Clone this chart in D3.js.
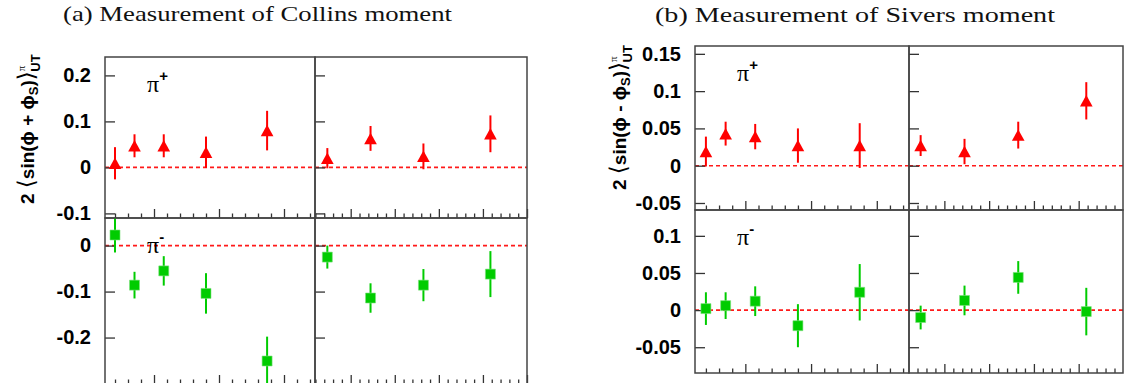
<!DOCTYPE html>
<html>
<head>
<meta charset="utf-8">
<script src="https://cdn.jsdelivr.net/npm/d3@7"></script>
<style>
body { margin: 0; background: #fff; }
</style>
</head>
<body>
<svg id="chart" width="1129" height="383"></svg>
<script>
// bin centres (left pads vs x, right pads vs z)
var xBins = [0.040, 0.070, 0.115, 0.180, 0.274];
var zBins = [0.247, 0.345, 0.465, 0.617];

// Collins moments
var collinsPipX    = [0.009, 0.047, 0.047, 0.033, 0.080];
var collinsPipXErr = [0.035, 0.025, 0.025, 0.034, 0.043];
var collinsPipZ    = [0.020, 0.063, 0.024, 0.073];
var collinsPipZErr = [0.022, 0.027, 0.028, 0.040];
var collinsPimX    = [0.023, -0.086, -0.055, -0.104, -0.251];
var collinsPimXErr = [0.038, 0.029, 0.032, 0.044, 0.053];
var collinsPimZ    = [-0.025, -0.114, -0.086, -0.062];
var collinsPimZErr = [0.025, 0.032, 0.035, 0.050];

// Sivers moments
var siversPipX    = [0.019, 0.043, 0.039, 0.027, 0.027];
var siversPipXErr = [0.020, 0.016, 0.017, 0.023, 0.030];
var siversPipZ    = [0.027, 0.019, 0.041, 0.087];
var siversPipZErr = [0.014, 0.017, 0.018, 0.025];
var siversPimX    = [0.002, 0.006, 0.012, -0.021, 0.024];
var siversPimXErr = [0.022, 0.018, 0.020, 0.029, 0.038];
var siversPimZ    = [-0.010, 0.013, 0.044, -0.002];
var siversPimZErr = [0.016, 0.020, 0.022, 0.032];

// y tick labels
var collinsTopTicks = [-0.1, 0, 0.1, 0.2];
var collinsBotTicks = [-0.2, -0.1, 0];
var siversTopTicks  = [-0.05, 0, 0.05, 0.1, 0.15];
var siversBotTicks  = [-0.05, 0, 0.05, 0.1];

var titles = ["(a) Measurement of Collins moment", "(b) Measurement of Sivers moment"];

var RED = "#ff0000", GREEN = "#00cc00";
var SANS = "'Liberation Sans', Arial, Helvetica, 'DejaVu Sans', sans-serif";

var svg = d3.select("#chart");
var defs = svg.append("defs");
var padId = 0;

// ROOT-like triangle marker, centred on its bounding box
var triShape = {
	draw: function(ctx, size) {
		var w = Math.sqrt(size);
		ctx.moveTo(0, -w * 0.5);
		ctx.lineTo(w * 0.55, w * 0.5);
		ctx.lineTo(-w * 0.55, w * 0.5);
		ctx.closePath();
	}
};

function drawPad(p) {
	"use strict"
	var g = svg.append("g");
	var x = d3.scaleLinear().domain(p.xDom).range([p.x0, p.x1]);
	var y = d3.scaleLinear().domain(p.yDom).range([p.y1, p.y0]);

	var cid = "clip" + (padId++);
	defs.append("clipPath").attr("id", cid)
		.append("rect")
			.attr("x", p.x0).attr("y", p.y0)
			.attr("width", p.x1 - p.x0).attr("height", p.y1 - p.y0);

	// red dashed zero line
	g.append("line")
		.attr("x1", p.x0).attr("x2", p.x1)
		.attr("y1", y(0)).attr("y2", y(0))
		.attr("stroke", "#ff1a1a")
		.attr("stroke-width", 1.6)
		.attr("stroke-dasharray", "4,3");

	// y axis, ticks inside
	var yAx = d3.axisLeft(y).tickValues(p.yTicks).tickSize(-10).tickPadding(14)
		.tickFormat(p.yLabels ? function(d){ return String(d) } : function(){ return "" });
	var ya = g.append("g").attr("transform", "translate(" + p.x0 + ",0)").call(yAx);
	ya.select(".domain").remove();
	ya.selectAll("line").attr("stroke", "#333").attr("stroke-width", 1.3);
	ya.selectAll("text")
		.attr("fill", "#000")
		.style("font-family", SANS)
		.style("font-weight", "bold")
		.style("font-size", "20px");

	// x ticks (major 0.1, minor 0.02), no labels
	var lo = Math.ceil(p.xDom[0] * 50 - 1e-6), hi = Math.floor(p.xDom[1] * 50 + 1e-6);
	var minor = [], major = [];
	d3.range(lo, hi + 1).forEach(function(i){
		if (i % 5 == 0) major.push(i / 50); else minor.push(i / 50);
	});
	[[major, -9], [minor, -4.5]].forEach(function(t){
		var xa = g.append("g").attr("transform", "translate(0," + p.y1 + ")")
			.call(d3.axisBottom(x).tickValues(t[0]).tickSize(t[1]).tickFormat(""));
		xa.select(".domain").remove();
		xa.selectAll("line").attr("stroke", "#333").attr("stroke-width", 1.3);
	});

	// data
	var pts = p.bins.map(function(b, i){ return {x: b, v: p.vals[i], e: p.errs[i]} });
	var dg = g.append("g").attr("clip-path", "url(#" + cid + ")");
	dg.selectAll("line.err")
		.data(pts)
		.enter()
		.append("line")
			.attr("class", "err")
			.attr("x1", function(d){ return x(d.x) })
			.attr("x2", function(d){ return x(d.x) })
			.attr("y1", function(d){ return y(d.v + d.e) })
			.attr("y2", function(d){ return y(d.v - d.e) })
			.attr("stroke", p.color)
			.attr("stroke-width", 2);
	var sym = p.tri ? d3.symbol(triShape, 132) : d3.symbol(d3.symbolSquare, 100);
	dg.selectAll("path.mk")
		.data(pts)
		.enter()
		.append("path")
			.attr("class", "mk")
			.attr("d", sym)
			.attr("transform", function(d){ return "translate(" + x(d.x) + "," + y(d.v) + ")" })
			.attr("fill", p.color)
			.attr("stroke", p.tri ? "none" : "#7fe07f")
			.attr("stroke-width", 0.6);

	// frame
	g.append("rect")
		.attr("x", p.x0).attr("y", p.y0)
		.attr("width", p.x1 - p.x0).attr("height", p.y1 - p.y0)
		.attr("fill", "none")
		.attr("stroke", "#444")
		.attr("stroke-width", 1.5);

	if (p.pi) {
		var t = g.append("text")
			.attr("x", p.x0 + 42).attr("y", p.y0 + 35);
		t.append("tspan")
			.style("font-family", "'Liberation Serif', 'Times New Roman', serif")
			.style("font-size", "24px")
			.text("\u03C0");
		t.append("tspan")
			.attr("dy", -11)
			.style("font-family", SANS)
			.style("font-weight", "bold")
			.style("font-size", "15px")
			.text(p.pi);
	}
}

function yLabel(px, py, sign) {
	var lab = svg.append("text")
		.attr("transform", "translate(" + px + "," + py + ") rotate(-90)")
		.style("font-family", SANS)
		.style("font-weight", "bold")
		.style("font-size", "19px");
	lab.append("tspan").text("2 ");
	lab.append("tspan").style("font-size", "23px").style("font-weight", "normal").text("\u27E8");
	lab.append("tspan").text("sin(\u03D5 " + sign + " \u03D5");
	lab.append("tspan").attr("dy", 4).style("font-size", "13px").text("S");
	lab.append("tspan").attr("dy", -4).text(")");
	lab.append("tspan").style("font-size", "23px").style("font-weight", "normal").text("\u27E9");
	lab.append("tspan").attr("dy", -9).style("font-size", "11px").style("font-weight", "normal")
		.style("font-family", "'Liberation Serif', serif").text("\u03C0");
	lab.append("tspan").attr("dx", -6).attr("dy", 15).style("font-size", "13px").text("UT");
}

function title(txt, x0, len, yb) {
	svg.append("text")
		.attr("x", x0).attr("y", yb)
		.attr("textLength", len)
		.attr("lengthAdjust", "spacingAndGlyphs")
		.style("font-family", "'Liberation Serif', 'Times New Roman', serif")
		.style("font-size", "22px")
		.attr("fill", "#111")
		.text(txt);
}

// (a) Collins
var cL = 105, cM = 315, cR = 527, cT = 57, cH = 218, cB = 384;
drawPad({x0: cL, x1: cM, y0: cT, y1: cH, xDom: [0.0246, 0.3477], yDom: [-0.110, 0.240],
	yTicks: collinsTopTicks, yLabels: true, bins: xBins, vals: collinsPipX, errs: collinsPipXErr,
	color: RED, tri: true, pi: "+"});
drawPad({x0: cM, x1: cR, y0: cT, y1: cH, xDom: [0.219, 0.700], yDom: [-0.110, 0.240],
	yTicks: collinsTopTicks, yLabels: false, bins: zBins, vals: collinsPipZ, errs: collinsPipZErr,
	color: RED, tri: true});
drawPad({x0: cL, x1: cM, y0: cH, y1: cB, xDom: [0.0246, 0.3477], yDom: [-0.301, 0.060],
	yTicks: collinsBotTicks, yLabels: true, bins: xBins, vals: collinsPimX, errs: collinsPimXErr,
	color: GREEN, tri: false, pi: "-"});
drawPad({x0: cM, x1: cR, y0: cH, y1: cB, xDom: [0.219, 0.700], yDom: [-0.301, 0.060],
	yTicks: collinsBotTicks, yLabels: false, bins: zBins, vals: collinsPimZ, errs: collinsPimZErr,
	color: GREEN, tri: false});

// (b) Sivers
var sL = 695, sM = 909, sR = 1123, sT = 46, sH = 210, sB = 373;
drawPad({x0: sL, x1: sM, y0: sT, y1: sH, xDom: [0.0234, 0.349], yDom: [-0.0594, 0.1605],
	yTicks: siversTopTicks, yLabels: true, bins: xBins, vals: siversPipX, errs: siversPipXErr,
	color: RED, tri: true, pi: "+"});
drawPad({x0: sM, x1: sR, y0: sT, y1: sH, xDom: [0.221, 0.699], yDom: [-0.0594, 0.1605],
	yTicks: siversTopTicks, yLabels: false, bins: zBins, vals: siversPipZ, errs: siversPipZErr,
	color: RED, tri: true});
drawPad({x0: sL, x1: sM, y0: sH, y1: sB, xDom: [0.0234, 0.349], yDom: [-0.0847, 0.1348],
	yTicks: siversBotTicks, yLabels: true, bins: xBins, vals: siversPimX, errs: siversPimXErr,
	color: GREEN, tri: false, pi: "-"});
drawPad({x0: sM, x1: sR, y0: sH, y1: sB, xDom: [0.221, 0.699], yDom: [-0.0847, 0.1348],
	yTicks: siversBotTicks, yLabels: false, bins: zBins, vals: siversPimZ, errs: siversPimZErr,
	color: GREEN, tri: false});

yLabel(34, 204, "+");
yLabel(626, 190, "-");

title(titles[0], 63, 389, 21);
title(titles[1], 655, 400, 22);
</script>
</body>
</html>
